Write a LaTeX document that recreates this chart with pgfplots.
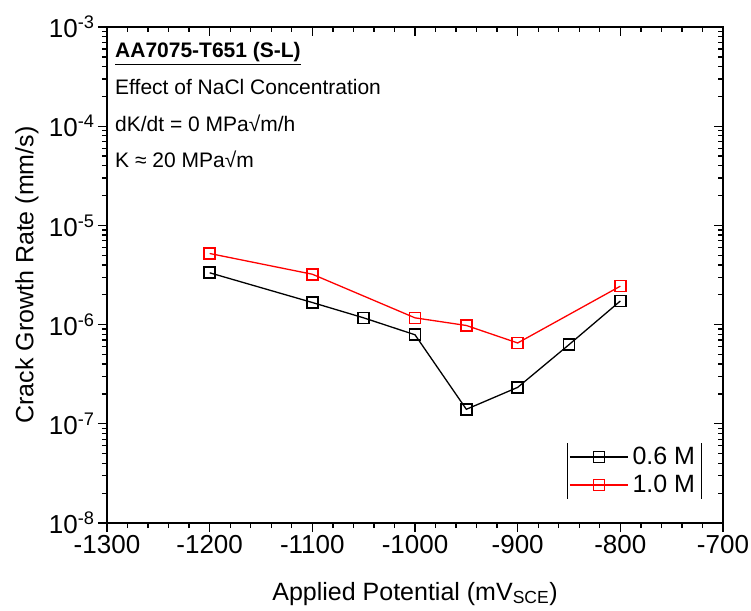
\documentclass[border=0pt]{standalone}
\usepackage{pgfplots}
\pgfplotsset{compat=1.18}
\usepackage{fontspec}
\setmainfont{Liberation Sans}
\begin{document}
\begin{tikzpicture}
\begin{axis}[name=ax,
  scale only axis, width=616pt, height=496pt,
  xmin=-1300, xmax=-700, ymode=log, ymin=1e-8, ymax=1e-3,
  xtick={-1300,-1200,-1100,-1000,-900,-800,-700},
  minor x tick num=4,
  major tick length=9pt, minor tick length=5pt,
  axis line style={line width=1.5pt},
  every tick/.style={line width=1.3pt, black},
  xtick pos=left, ytick pos=left, tick align=outside,
  xticklabels={-1300,-1200,-1100,-1000,-900,-800,-700},
  yticklabel={\pgfmathparse{int(round(\tick/ln(10)))}10\textsuperscript{\pgfmathresult}},
  tick label style={font=\fontsize{26}{30}\selectfont},
  xlabel={Applied Potential (mV\textsubscript{SCE})},
  ylabel={Crack Growth Rate (mm/s)},
  label style={font=\fontsize{25}{30}\selectfont},
  xlabel style={at={(axis description cs:0.5,0)}, anchor=base, yshift=-77pt},
  ylabel style={at={(axis description cs:-0.111,0.5)}, anchor=south, inner sep=0pt},
  legend style={name=leg, draw=none, fill=none, at={(rel axis cs:0.7468,0.105)}, anchor=west,
    font=\fontsize{25}{30}\selectfont, row sep=5pt, inner xsep=2pt, inner ysep=2pt,
    nodes={inner xsep=4pt}},
  legend cell align=left,
  legend image code/.code={\draw[mark repeat=2,mark phase=2,#1] plot coordinates {(0pt,0pt) (29pt,0pt) (58pt,0pt)};},
]
\addplot[black, line width=1.3pt, mark=square, mark size=5.5pt, mark options={line width=1.6pt, solid, fill=white}]
coordinates {(-1200,3.33e-6) (-1100,1.67e-6) (-1050,1.17e-6) (-1000,7.9e-7) (-950,1.40e-7) (-900,2.33e-7) (-850,6.28e-7) (-800,1.73e-6)};
\addlegendentry{0.6 M}
\addplot[red, line width=1.3pt, mark=square, mark size=5.5pt, mark options={line width=1.6pt, solid, fill=white}]
coordinates {(-1200,5.21e-6) (-1100,3.22e-6) (-1000,1.17e-6) (-950,9.8e-7) (-900,6.53e-7) (-800,2.44e-6)};
\addlegendentry{1.0 M}
\end{axis}
\begin{axis}[at={(ax.south west)}, anchor=south west,
  scale only axis, width=616pt, height=496pt,
  xmin=-1300, xmax=-700, ymode=log, ymin=1e-8, ymax=1e-3,
  xtick={-1300,-1200,-1100,-1000,-900,-800,-700},
  minor x tick num=4,
  major tick length=9pt, minor tick length=5pt,
  axis line style={line width=1.5pt},
  every tick/.style={line width=1.3pt, black},
  xtick pos=right, ytick pos=right, tick align=inside,
  xticklabels={}, yticklabels={}]
\end{axis}
\draw[line width=1pt] (leg.north west) -- (leg.south west);
\draw[line width=1pt] (leg.north east) -- (leg.south east);
\node[anchor=base west, inner sep=0pt, font=\fontsize{21}{24}\selectfont\bfseries] at ([shift={(8pt,-31pt)}]ax.north west) {\underline{AA7075-T651 (S-L)}};
\node[anchor=base west, inner sep=0pt, font=\fontsize{21}{24}\selectfont] at ([shift={(8pt,-68pt)}]ax.north west) {Effect of NaCl Concentration};
\node[anchor=base west, inner sep=0pt, font=\fontsize{21}{24}\selectfont] at ([shift={(8pt,-105pt)}]ax.north west) {dK/dt = 0 MPa√m/h};
\node[anchor=base west, inner sep=0pt, font=\fontsize{21}{24}\selectfont] at ([shift={(8pt,-141pt)}]ax.north west) {K ≈ 20 MPa√m};
\pgfresetboundingbox
\path ([shift={(-107pt,-87pt)}]ax.south west) rectangle ([shift={(28pt,27pt)}]ax.north east);
\end{tikzpicture}
\end{document}
